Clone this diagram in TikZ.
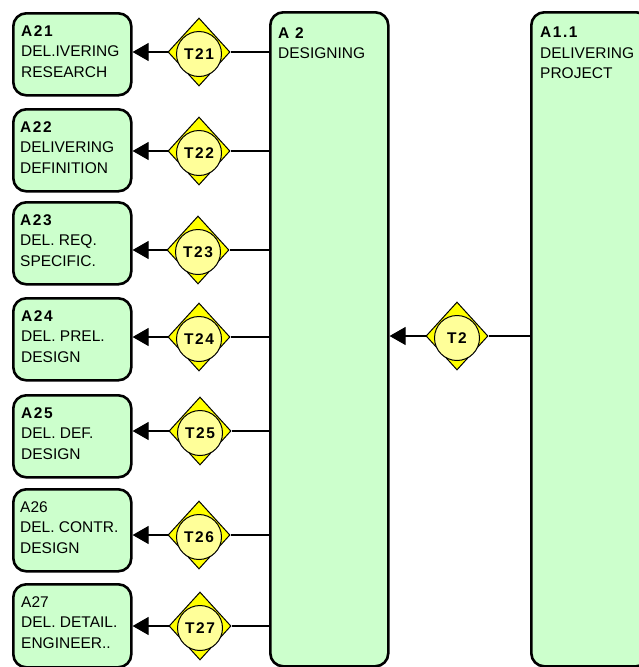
\documentclass[tikz,border=0pt]{standalone}
\usepackage{fontspec}
\setmainfont{Liberation Sans}
\newfontface\hdbold{Liberation Sans Bold}[LetterSpace=10]
\usetikzlibrary{shapes.geometric, arrows.meta, calc}

\definecolor{boxgreen}{HTML}{CCFFCC}
\definecolor{gateyellow}{HTML}{FFFF00}
\definecolor{coreyellow}{HTML}{FFFF99}

\begin{document}
\begin{tikzpicture}[x=1pt,y=-1pt,
  actbox/.style={draw, line width=2.6pt, rounded corners=13pt, fill=boxgreen,
    minimum width=118pt, minimum height=82pt, anchor=north west, inner sep=0pt},
  bigbox/.style={actbox, minimum height=654pt},
  boxtext/.style={anchor=north west, inner sep=0pt, align=left,
    font=\fontsize{15.5}{20.5}\selectfont},
  gate/.style={diamond, draw, line width=1pt, fill=gateyellow,
    minimum width=62pt, minimum height=68pt, inner sep=0pt},
  gatecore/.style={circle, draw, line width=1pt, fill=coreyellow,
    minimum size=45pt, inner sep=0pt, font=\fontsize{15.5}{18}\hdbold},
  link/.style={line width=1.2pt},
  flow/.style={link, -{Triangle[length=16pt,width=18pt]}}
]
\useasboundingbox (0,0) rectangle (639,667);
\clip (0,0) rectangle (639,667);

% parent activities
\node[bigbox] (a2)  at (269,11) {};
\node[bigbox] (a11) at (530,11) {};
\node[boxtext] (a2t)  at ($(a2.north west)+(9,16)$)  {{\hdbold A 2}\\DESIGNING};
\node[boxtext] (a11t) at ($(a11.north west)+(10,16)$) {{\hdbold A1.1}\\DELIVERING\\PROJECT};

% sub-activities
\node[actbox] (a21) at (12,12)  {};
\node[actbox] (a22) at (12,108) {};
\node[actbox] (a23) at (12,201) {};
\node[actbox] (a24) at (12,297) {};
\node[actbox] (a25) at (12,394) {};
\node[actbox] (a26) at (12,488) {};
\node[actbox, minimum height=83pt] (a27) at (12,583) {};

\node[boxtext] (a21t) at ($(a21.north west)+(9,13)$) {{\hdbold A21}\\DEL.IVERING\\RESEARCH};
\node[boxtext] (a22t) at ($(a22.north west)+(8,13)$) {{\hdbold A22}\\DELIVERING\\DEFINITION};
\node[boxtext] (a23t) at ($(a23.north west)+(8,13)$) {{\hdbold A23}\\DEL. REQ.\\SPECIFIC.};
\node[boxtext] (a24t) at ($(a24.north west)+(9,13)$) {{\hdbold A24}\\DEL. PREL.\\DESIGN};
\node[boxtext] (a25t) at ($(a25.north west)+(9,13)$) {{\hdbold A25}\\DEL. DEF.\\DESIGN};
\node[boxtext] (a26t) at ($(a26.north west)+(8,13)$) {A26\\DEL. CONTR.\\DESIGN};
\node[boxtext] (a27t) at ($(a27.north west)+(9,13)$) {A27\\DEL. DETAIL.\\ENGINEER..};

% transfer gates
\node[gate] (g21) at (199,52)  {};
\node[gate] (g22) at (199,151) {};
\node[gate] (g23) at (198,250) {};
\node[gate] (g24) at (199,337) {};
\node[gate] (g25) at (200,431) {};
\node[gate] (g26) at (199,535) {};
\node[gate] (g27) at (200,626) {};
\node[gate] (g2)  at (457,336) {};

\node[gatecore] (c21) at ($(g21)+(0,2)$) {T21};
\node[gatecore] (c22) at ($(g22)+(0,2)$) {T22};
\node[gatecore] (c23) at ($(g23)+(0,2)$) {T23};
\node[gatecore] (c24) at ($(g24)+(0,2)$) {T24};
\node[gatecore] (c25) at ($(g25)+(0,2)$) {T25};
\node[gatecore] (c26) at ($(g26)+(0,2)$) {T26};
\node[gatecore] (c27) at ($(g27)+(0,2)$) {T27};
\node[gatecore] (c2)  at ($(g2)+(0,2)$)  {T2};

% connectors
\foreach \k in {21,22,23,24,25,26,27}{
  \draw[link] (g\k.east) -- (g\k.east -| a2.west);
  \draw[flow] (g\k.west) -- (g\k.west -| a\k.east);
}
\draw[link] (g2.east) -- (g2.east -| a11.west);
\draw[flow] (g2.west) -- (g2.west -| a2.east);
\end{tikzpicture}
\end{document}
